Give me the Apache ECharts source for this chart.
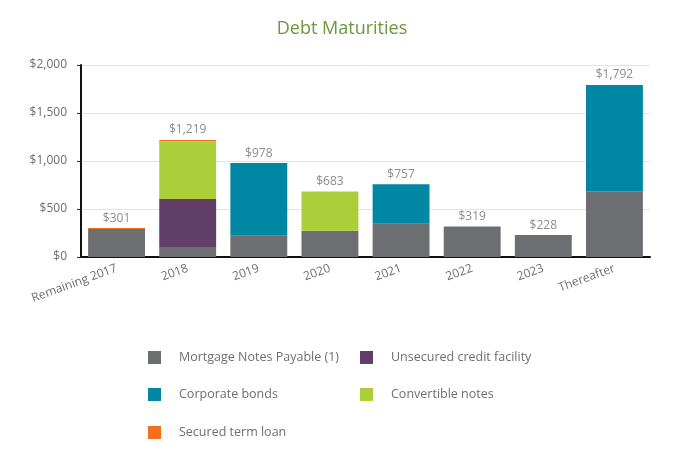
<!DOCTYPE html>
<html><head><meta charset="utf-8">
<script src="https://cdn.jsdelivr.net/npm/echarts@6/dist/echarts.min.js"></script>
<style>html,body{margin:0;padding:0;background:#fff}#c{width:684px;height:470px}</style>
</head><body><div id="c"></div>
<script>
const categories = ['Remaining 2017','2018','2019','2020','2021','2022','2023','Thereafter'];
const mortgage    = [291, 105, 222, 273, 347, 319, 228, 685];
const unsecured   = [0, 500, 0, 0, 0, 0, 0, 0];
const corporate   = [0, 0, 756, 0, 410, 0, 0, 1107];
const convertible = [0, 600, 0, 410, 0, 0, 0, 0];
const secured     = [10, 14, 0, 0, 0, 0, 0, 0];
const totals      = [301, 1219, 978, 683, 757, 319, 228, 1792];
const yTicks = [0, 500, 1000, 1500, 2000];

const names = ['Mortgage Notes Payable (1)','Unsecured credit facility','Corporate bonds','Convertible notes','Secured term loan'];
const colors = ['#6d6e71','#613f68','#0087a4','#adce3b','#f37021'];
const dataSets = [mortgage, unsecured, corporate, convertible, secured];
const font = 'Open Sans';
const fmt = v => '$' + v.toLocaleString('en-US');

const series = dataSets.map((d, i) => ({
  name: names[i], type: 'bar', stack: 'a', barWidth: '80%',
  itemStyle: { color: colors[i] }, data: d
}));
series.push({
  name: 'total', type: 'scatter', symbolSize: 0, data: totals,
  label: { show: true, position: 'top', distance: 4, formatter: p => fmt(p.value),
           color: '#6d6e71', fontSize: 12, fontFamily: font },
  silent: true, z: 10
});

const legPos = [[143,346],[355,346],[143,383],[355,383],[143,421]];
const legends = names.map((n, i) => ({
  data: [n], left: legPos[i][0], top: legPos[i][1],
  itemWidth: 13, itemHeight: 13, icon: 'rect',
  textStyle: { color: '#6d6e71', fontSize: 12.5, fontFamily: font, padding: [0,0,0,13] }
}));

const chart = echarts.init(document.getElementById('c'));
chart.setOption({
  animation: false,
  title: { text: 'Debt Maturities', left: 'center', top: 15,
    textStyle: { color: '#6a9a3c', fontSize: 18, fontWeight: 'normal', fontFamily: font } },
  legend: legends,
  grid: { left: 81, right: 34, top: 65, bottom: 213 },
  xAxis: {
    type: 'category', data: categories,
    axisLine: { lineStyle: { color: '#111', width: 2 } },
    axisTick: { alignWithLabel: true, length: 5, lineStyle: { color: '#333' } },
    axisLabel: { rotate: 20, color: '#6d6e71', fontSize: 12, fontFamily: font, margin: 11 }
  },
  yAxis: {
    type: 'value', min: 0, max: 2000, interval: 500,
    axisLine: { show: true, lineStyle: { color: '#111', width: 2 } },
    axisTick: { show: true, length: 4, lineStyle: { color: '#333' } },
    splitLine: { lineStyle: { color: '#e3e3e3' } },
    axisLabel: { color: '#6d6e71', fontSize: 12, fontFamily: font, margin: 14,
      formatter: v => yTicks.includes(v) ? fmt(v) : '' }
  },
  series
});
</script></body></html>
